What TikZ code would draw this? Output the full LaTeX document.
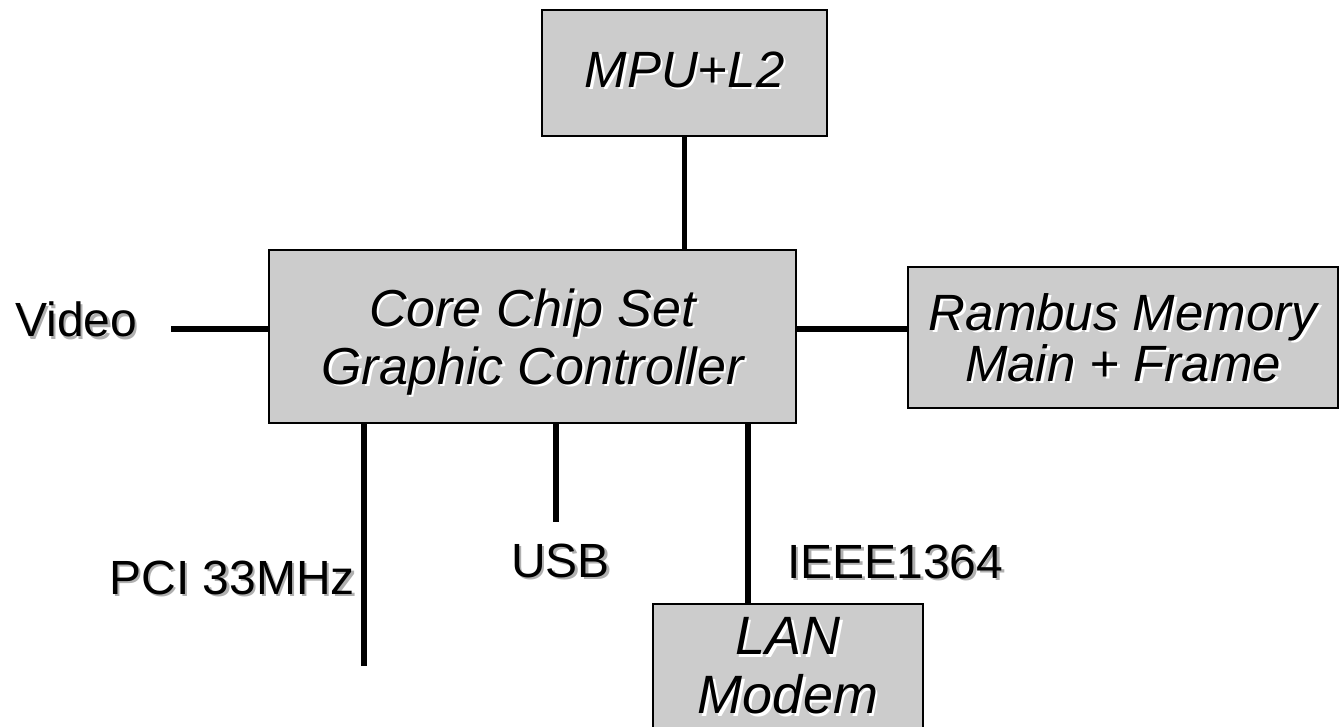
\documentclass[tikz,border=0pt]{standalone}
\usepackage{fontspec}
\setmainfont{Liberation Sans}
\usepackage{xcolor}
\definecolor{boxgray}{HTML}{CCCCCC}
\definecolor{shgray}{HTML}{B0B0B0}
\newcommand\shtxt[2]{\makebox[0pt][l]{\hspace{2.5pt}\raisebox{-2.5pt}{\textcolor{#1}{#2}}}#2}
\begin{document}
\begin{tikzpicture}[x=1pt,y=-1pt,
  blk/.style={draw=black,line width=2pt,fill=boxgray,rectangle,inner sep=0pt,align=center,
    font=\fontsize{52}{58}\selectfont\itshape},
  lbl/.style={inner sep=0pt,font=\fontsize{48}{54}\selectfont},
  wire/.style={line width=5.5pt}]
\useasboundingbox (0,0) rectangle (1342,727);
\begin{scope}
\clip (0,0) rectangle (1342,727);
\node[blk,minimum width=285pt,minimum height=126pt,font=\fontsize{51}{58}\selectfont\itshape,text depth=7pt] (mpu) at (684.5,73) {\shtxt{white}{MPU+L2}};
\node[blk,minimum width=527pt,minimum height=173pt,text depth=0pt] (core) at (532.5,336.5)
  {\shtxt{white}{Core Chip Set}\\\shtxt{white}{Graphic Controller}};
\node[blk,minimum width=430pt,minimum height=141pt,text depth=0pt,font=\fontsize{51}{48}\selectfont\itshape] (ram) at (1123,337.5)
  {\shtxt{white}{Rambus Memory}\\\shtxt{white}{Main + Frame}};
\node[blk,minimum width=270pt,anchor=north,inner xsep=0pt,inner ysep=12pt,text height=97.7pt,text depth=60pt,
  font=\fontsize{54}{59}\selectfont\itshape] (lan) at (788,603)
  {\shtxt{white}{LAN}\\\shtxt{white}{Modem}};

\node[lbl,anchor=base west] (video) at (15,337) {\shtxt{shgray}{Video}};
\node[lbl,anchor=base east] (pci) at (355,594) {\shtxt{shgray}{PCI 33MHz}};
\node[lbl,anchor=base] (usb) at (560.5,577) {\shtxt{shgray}{USB}};
\node[lbl,anchor=base west] (ieee) at (787,578) {\shtxt{shgray}{IEEE1364}};

\coordinate (vend) at (171,329);
\coordinate (pciend) at (364,666);
\coordinate (usbend) at (556,522);
\coordinate (ieeex) at (748,0);

\draw[wire] (mpu.south) -- (mpu.south |- core.north);
\draw[wire] (vend) -- (core.west |- vend);
\draw[wire] (core.east |- vend) -- (ram.west |- vend);
\draw[wire] (pciend |- core.south) -- (pciend);
\draw[wire] (usbend |- core.south) -- (usbend);
\draw[wire] (ieeex |- core.south) -- (ieeex |- lan.north);
\end{scope}
\end{tikzpicture}
\end{document}
